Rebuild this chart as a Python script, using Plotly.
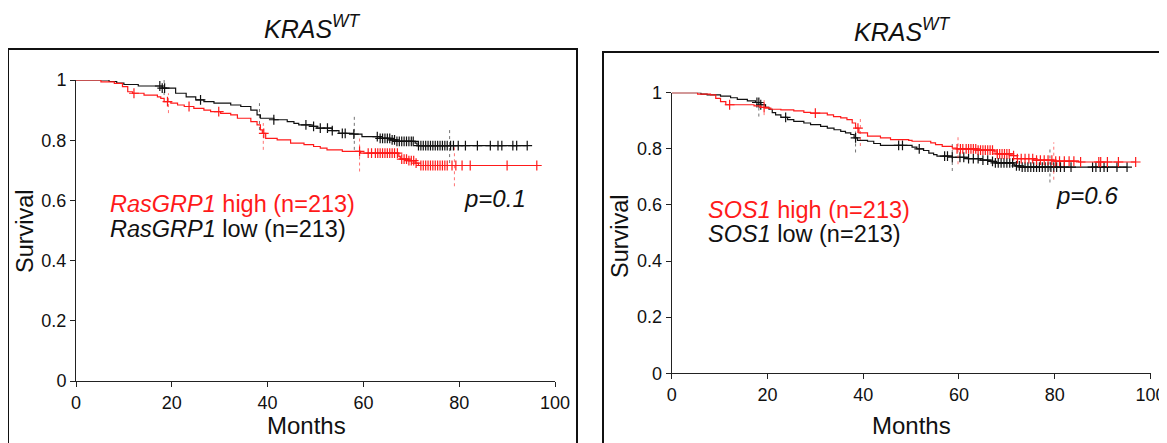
import numpy as np
import plotly.graph_objects as go

# The page body adds an 8px margin, so the figure is sized to the visible area
OFF = 8
W, H = 1167 - OFF, 443 - OFF
FONT = "Liberation Sans, Arial, Helvetica, sans-serif"

# ---------------- data ----------------
# Left panel: RasGRP1 (KM step curves: event month, survival after event)
rg_low_t = [0, 6.9, 8.5, 10, 13, 18, 20.8, 23, 25, 26.7, 28.8, 32.3, 34.4, 36.5, 37.8, 38.5, 41.3, 44.1,
            45.5, 46.5, 49.3, 50.3, 53.5, 54.9, 58, 59.7, 63.5, 65.6, 67, 70.8, 71.2, 94.2]
rg_low_s = [1, 0.995, 0.99, 0.985, 0.98, 0.973, 0.956, 0.944, 0.934, 0.928, 0.923, 0.917, 0.912, 0.90,
            0.884, 0.873, 0.868, 0.862, 0.856, 0.851, 0.846, 0.840, 0.832, 0.823, 0.82, 0.812, 0.806,
            0.801, 0.796, 0.79, 0.782, 0.782]
rg_high_t = [0, 5.2, 8, 9.7, 10.8, 11.8, 14.2, 17, 17.7, 18.4, 19.8, 21.2, 22.6, 24.6, 26.7, 28.1, 30.2,
             32.3, 33.7, 36.5, 37.8, 38.5, 38.9, 39.6, 42, 44.8, 47.6, 49.6, 51, 52.4, 55.6, 59.4, 67.4,
             67.7, 69.5, 70.8, 71.5, 96.2]
rg_high_s = [1, 0.994, 0.989, 0.978, 0.961, 0.956, 0.95, 0.944, 0.939, 0.928, 0.923, 0.917, 0.912, 0.906,
             0.90, 0.895, 0.889, 0.884, 0.873, 0.862, 0.851, 0.834, 0.823, 0.806, 0.801, 0.79, 0.785,
             0.779, 0.774, 0.768, 0.763, 0.757, 0.746, 0.737, 0.732, 0.724, 0.716, 0.716]
rg_low_cens = [17.5, 18, 18.5, 26, 41.3, 48, 49.6, 51, 52.5, 53.5, 55.6, 56.2, 58, 62.9, 63.5, 64, 64.5, 65,
               65.5, 66, 66.5, 67, 67.5, 68, 68.5, 69, 69.5, 70, 70.4, 71.5, 72, 72.5, 73, 73.5, 74, 74.5,
               75, 75.5, 76, 76.5, 77, 77.5, 78.2, 78.8, 79.8, 81.3, 83.8, 86.5, 88.1, 88.9, 91.2, 92, 94.2]
rg_high_cens = [12.1, 19.1, 23.6, 29.8, 39.2, 59.2, 61, 61.7, 62.5, 63, 63.5, 64, 64.5, 65, 65.5, 66, 66.5,
                67.1, 68, 68.5, 69, 69.5, 70, 70.5, 71, 72, 72.5, 73, 73.5, 74, 74.5, 75, 75.5, 76, 76.5,
                77, 77.5, 78.5, 79.3, 80.6, 82.3, 90, 96.2]
rg_low_ci_t = [18.4, 38.3, 58.1, 78.0]
rg_low_ci_lo = [0.95, 0.834, 0.768, 0.724]
rg_low_ci_hi = [1.02, 0.923, 0.878, 0.84]
rg_high_ci_t = [19.3, 39.1, 59.2, 79.0]
rg_high_ci_lo = [0.89, 0.768, 0.696, 0.647]
rg_high_ci_hi = [0.956, 0.857, 0.812, 0.779]

# Right panel: SOS1
sos_low_t = [0, 6.1, 7.4, 10.2, 12.3, 13.7, 15.8, 17.5, 18.6, 19.6, 20.3, 21, 21.7, 22.8, 24.2, 25.5, 27.6,
             29, 31.1, 32.5, 33.9, 35.3, 36.3, 37.4, 38.1, 38.8, 40.9, 42.2, 43.6, 50.2, 51.2, 52.6, 53.7,
             54.7, 55.4, 58.6, 61.7, 64.5, 66.6, 67.6, 71.4, 71.7, 72.7, 95.1]
sos_low_s = [1, 0.995, 0.992, 0.988, 0.982, 0.976, 0.971, 0.965, 0.957, 0.948, 0.941, 0.929, 0.921, 0.912,
             0.904, 0.898, 0.892, 0.886, 0.88, 0.874, 0.868, 0.862, 0.857, 0.851, 0.839, 0.83, 0.827, 0.819,
             0.812, 0.806, 0.80, 0.794, 0.785, 0.779, 0.774, 0.77, 0.765, 0.76, 0.755, 0.75, 0.745, 0.739,
             0.735, 0.735]
sos_high_t = [0, 5.4, 8.1, 9.2, 10.2, 11.3, 17.2, 18.6, 19.6, 20.7, 22.8, 25.5, 27.6, 29, 32.5, 33.8, 35.3,
              36.6, 37.7, 38.4, 39.1, 40.9, 43.6, 45.7, 49.5, 50.2, 54.1, 55.1, 56.5, 58.6, 59.6, 63.8,
              67.3, 68, 71.4, 72.2, 75.6, 79.8, 85, 96.9]
sos_high_s = [1, 0.995, 0.992, 0.98, 0.968, 0.957, 0.953, 0.948, 0.945, 0.941, 0.939, 0.935, 0.93, 0.927,
              0.921, 0.915, 0.91, 0.904, 0.892, 0.874, 0.857, 0.845, 0.839, 0.833, 0.83, 0.827, 0.821,
              0.815, 0.809, 0.803, 0.80, 0.795, 0.789, 0.782, 0.776, 0.765, 0.76, 0.756, 0.753, 0.753]
sos_low_cens = [17.8, 18.2, 18.6, 23.8, 38.4, 47.4, 48.2, 51.7, 57, 57.6, 58.6, 60.2, 61, 62, 63, 64, 65, 66,
                67, 67.6, 68.2, 68.8, 69.4, 70, 70.6, 71.2, 72, 72.6, 73.2, 73.8, 74.4, 75, 75.6, 76.2,
                76.8, 77.4, 78, 78.6, 79.2, 79.8, 80.4, 81.2, 82, 83.4, 87.9, 88.6, 89.5, 90.3, 91, 93, 95.1]
sos_high_cens = [12.1, 19.3, 30, 38.9, 59.6, 60.3, 60.8, 61.5, 62, 62.5, 63, 63.5, 64, 64.5, 65, 65.5, 66,
                 66.5, 67, 68, 68.5, 69, 69.5, 70, 70.5, 71.4, 72.2, 73, 73.8, 74.6, 75.4, 76.2, 77, 77.8,
                 78.6, 79.4, 80.2, 81, 82, 83, 84, 85.4, 89.2, 89.6, 91, 93.3, 96.9]
sos_low_ci_t = [18.2, 38.4, 58.6, 79.0]
sos_low_ci_lo = [0.915, 0.787, 0.721, 0.68]
sos_low_ci_hi = [0.98, 0.886, 0.827, 0.804]
sos_high_ci_t = [19.3, 39.4, 59.8, 79.8]
sos_high_ci_lo = [0.92, 0.81, 0.745, 0.69]
sos_high_ci_hi = [0.98, 0.91, 0.85, 0.823]

x_ticks = [0, 20, 40, 60, 80, 100]
y_ticks = [0, 0.2, 0.4, 0.6, 0.8, 1]
y_ticktext = ["0", "0.2", "0.4", "0.6", "0.8", "1"]

RED = "#ff1a1a"
BLACK = "#111111"


def step_at(t, s, x):
    idx = np.searchsorted(np.array(t), np.array(x), side="right") - 1
    return list(np.array(s)[np.clip(idx, 0, len(s) - 1)])


def ci_xy(ts, lo, hi):
    xs, ys = [], []
    for t, a, b in zip(ts, lo, hi):
        xs += [t, t, None]
        ys += [a, b, None]
    return xs, ys


fig = go.Figure()


def add_panel(xa, ya, series):
    for t, s, cens, cit, cilo, cihi, col, cicol in series:
        cx, cy = ci_xy(cit, cilo, cihi)
        fig.add_trace(go.Scatter(x=cx, y=cy, mode="lines", xaxis=xa, yaxis=ya,
                                 line=dict(color=cicol, width=1, dash="dot"),
                                 cliponaxis=False, showlegend=False, hoverinfo="skip"))
        fig.add_trace(go.Scatter(x=t, y=s, mode="lines", xaxis=xa, yaxis=ya,
                                 line=dict(color=col, width=1.2, shape="hv"),
                                 showlegend=False))
        fig.add_trace(go.Scatter(x=cens, y=step_at(t, s, cens), mode="markers", xaxis=xa, yaxis=ya,
                                 marker=dict(symbol="cross-thin", size=7,
                                             line=dict(color=col, width=1.2)),
                                 cliponaxis=False, showlegend=False))


add_panel("x", "y", [
    (rg_low_t, rg_low_s, rg_low_cens, rg_low_ci_t, rg_low_ci_lo, rg_low_ci_hi, BLACK, "rgba(0,0,0,0.55)"),
    (rg_high_t, rg_high_s, rg_high_cens, rg_high_ci_t, rg_high_ci_lo, rg_high_ci_hi, RED, "rgba(255,0,0,0.55)"),
])
add_panel("x2", "y2", [
    (sos_low_t, sos_low_s, sos_low_cens, sos_low_ci_t, sos_low_ci_lo, sos_low_ci_hi, BLACK, "rgba(0,0,0,0.55)"),
    (sos_high_t, sos_high_s, sos_high_cens, sos_high_ci_t, sos_high_ci_lo, sos_high_ci_hi, RED, "rgba(255,0,0,0.55)"),
])


def px_x(p):
    return (p - OFF) / W


def px_y(p):
    return 1 - (p - OFF) / H


axis_common = dict(showline=True, linecolor="#222", linewidth=1, ticks="outside", ticklen=5,
                   tickwidth=1, tickcolor="#222", showgrid=False, zeroline=False, automargin=False,
                   tickfont=dict(family=FONT, size=18, color="#111"))

fig.update_layout(
    width=W, height=H, margin=dict(l=0, r=0, t=0, b=0, pad=0, autoexpand=False),
    paper_bgcolor="white", plot_bgcolor="white",
    xaxis=dict(domain=[px_x(76), px_x(555)], range=[0, 100], tickvals=x_ticks, anchor="y", **axis_common),
    yaxis=dict(domain=[px_y(381), px_y(80)], range=[0, 1], tickvals=y_ticks, ticktext=y_ticktext,
               anchor="x", **axis_common),
    xaxis2=dict(domain=[px_x(671.7), min(1.0, px_x(1150.5))], range=[0, 100], tickvals=x_ticks,
                anchor="y2", **axis_common),
    yaxis2=dict(domain=[px_y(373.3), px_y(92.7)], range=[0, 1], tickvals=y_ticks, ticktext=y_ticktext,
                anchor="x2", **axis_common),
    showlegend=False,
)

# panel frames
fig.add_shape(type="rect", xref="paper", yref="paper", x0=px_x(8), x1=px_x(577), y0=px_y(470), y1=px_y(49),
              line=dict(color="#111", width=2), layer="below")
fig.add_shape(type="rect", xref="paper", yref="paper", x0=px_x(603), x1=px_x(1200), y0=px_y(470), y1=px_y(52),
              line=dict(color="#111", width=2), layer="below")


def text(x, y, s, size, color="#111", xanchor="center", angle=0):
    fig.add_annotation(x=px_x(x), y=px_y(y), xref="paper", yref="paper", text=s, showarrow=False,
                       xanchor=xanchor, yanchor="middle", textangle=angle,
                       font=dict(family=FONT, size=size, color=color))


text(312, 27, "<i>KRAS<sup>WT</sup></i>", 25)
text(902, 30, "<i>KRAS<sup>WT</sup></i>", 25)
text(306, 425, "Months", 24)
text(911, 425, "Months", 24)
text(25, 231, "Survival", 23.5, angle=-90)
text(620, 236, "Survival", 23.5, angle=-90)
text(108, 204, "<i>RasGRP1</i> high (n=213)", 23.5, color=RED, xanchor="left")
text(108, 229, "<i>RasGRP1</i> low (n=213)", 23.5, xanchor="left")
text(495, 198, "<i>p=0.1</i>", 24)
text(706, 210, "<i>SOS1</i> high (n=213)", 23.5, color=RED, xanchor="left")
text(706, 234, "<i>SOS1</i> low (n=213)", 23.5, xanchor="left")
text(1087, 195, "<i>p=0.6</i>", 24)

fig.write_html("out.html")
